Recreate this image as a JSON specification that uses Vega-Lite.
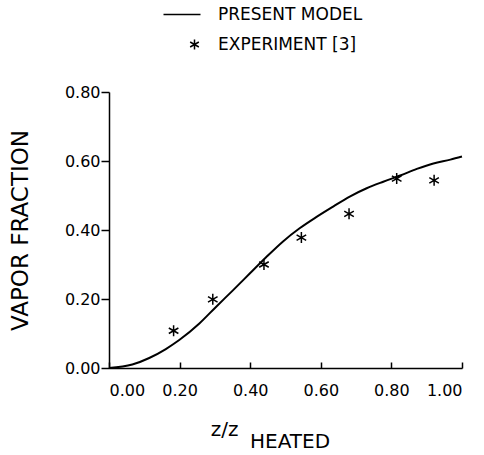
{
  "$schema": "https://vega.github.io/schema/vega-lite/v6.json",
  "autosize": {"type": "none"},
  "width": 353,
  "height": 276,
  "padding": {"left": 109, "top": 92, "right": 22, "bottom": 87},
  "background": "white",
  "config": {
    "view": {"stroke": null},
    "font": "DejaVu Sans",
    "axis": {"domainColor": "black", "tickColor": "black", "labelColor": "black", "titleColor": "black", "grid": false, "labelFont": "DejaVu Sans", "titleFont": "DejaVu Sans", "titleFontWeight": "normal"}
  },
  "title": {"text": "HEATED", "orient": "bottom", "anchor": "start", "dx": 141, "offset": -7, "fontSize": 20, "fontWeight": "normal", "color": "black", "font": "DejaVu Sans", "frame": "group"},
  "datasets": {
    "model": [
      {"series": "PRESENT MODEL", "x": 0.0, "y": 0.0},
      {"series": "PRESENT MODEL", "x": 0.066, "y": 0.01},
      {"series": "PRESENT MODEL", "x": 0.114, "y": 0.029},
      {"series": "PRESENT MODEL", "x": 0.161, "y": 0.055},
      {"series": "PRESENT MODEL", "x": 0.199, "y": 0.081},
      {"series": "PRESENT MODEL", "x": 0.256, "y": 0.129},
      {"series": "PRESENT MODEL", "x": 0.303, "y": 0.177},
      {"series": "PRESENT MODEL", "x": 0.351, "y": 0.225},
      {"series": "PRESENT MODEL", "x": 0.398, "y": 0.273},
      {"series": "PRESENT MODEL", "x": 0.445, "y": 0.321},
      {"series": "PRESENT MODEL", "x": 0.493, "y": 0.367},
      {"series": "PRESENT MODEL", "x": 0.54, "y": 0.405},
      {"series": "PRESENT MODEL", "x": 0.588, "y": 0.438},
      {"series": "PRESENT MODEL", "x": 0.635, "y": 0.468},
      {"series": "PRESENT MODEL", "x": 0.682, "y": 0.497},
      {"series": "PRESENT MODEL", "x": 0.73, "y": 0.521},
      {"series": "PRESENT MODEL", "x": 0.777, "y": 0.54},
      {"series": "PRESENT MODEL", "x": 0.825, "y": 0.558},
      {"series": "PRESENT MODEL", "x": 0.872, "y": 0.577},
      {"series": "PRESENT MODEL", "x": 0.919, "y": 0.593},
      {"series": "PRESENT MODEL", "x": 0.967, "y": 0.604},
      {"series": "PRESENT MODEL", "x": 1.0, "y": 0.613}
    ],
    "experiment": [
      {"series": "EXPERIMENT [3]", "x": 0.183, "y": 0.108},
      {"series": "EXPERIMENT [3]", "x": 0.294, "y": 0.199},
      {"series": "EXPERIMENT [3]", "x": 0.439, "y": 0.3},
      {"series": "EXPERIMENT [3]", "x": 0.545, "y": 0.378},
      {"series": "EXPERIMENT [3]", "x": 0.68, "y": 0.447},
      {"series": "EXPERIMENT [3]", "x": 0.815, "y": 0.549},
      {"series": "EXPERIMENT [3]", "x": 0.921, "y": 0.544}
    ]
  },
  "layer": [
    {
      "data": {"name": "model"},
      "mark": {"type": "line", "color": "black", "strokeWidth": 2, "interpolate": "monotone"},
      "encoding": {
        "x": {"field": "x", "type": "quantitative", "scale": {"domain": [0, 1], "nice": false},
          "axis": {"values": [0, 0.2, 0.4, 0.6, 0.8, 1.0], "format": ".2f", "tickSize": -6, "labelPadding": 20, "labelFontSize": 16, "domainWidth": 1.5, "tickWidth": 1.5,
            "title": "z/z", "titleFontSize": 20, "titleX": 115, "titleY": 67, "titleBaseline": "alphabetic", "titleAlign": "center"}},
        "y": {"field": "y", "type": "quantitative", "scale": {"domain": [0, 0.8], "nice": false},
          "axis": {"values": [0, 0.2, 0.4, 0.6, 0.8], "format": ".2f", "tickSize": 8, "labelPadding": 1, "labelFontSize": 16, "domainWidth": 1.5, "tickWidth": 1.5,
            "title": "VAPOR FRACTION", "titleFontSize": 23, "titlePadding": 32}}
      }
    },
    {
      "data": {"name": "experiment"},
      "mark": {"type": "point", "filled": false, "stroke": "black", "strokeWidth": 1.5, "size": 121, "opacity": 1},
      "encoding": {
        "x": {"field": "x", "type": "quantitative"},
        "y": {"field": "y", "type": "quantitative"},
        "shape": {"field": "series", "type": "nominal",
          "scale": {"domain": ["PRESENT MODEL", "EXPERIMENT [3]"], "range": ["M-6.2,0L1.2,0", "M0,-1L0,1M-0.87,-0.5L0.87,0.5M-0.87,0.5L0.87,-0.5"]},
          "legend": {"title": null, "orient": "none", "legendX": 77, "legendY": -86, "symbolSize": 100, "symbolStrokeColor": "black", "symbolStrokeWidth": 1.5, "symbolFillColor": "transparent", "labelFontSize": 17, "labelColor": "black", "labelOffset": 15, "rowPadding": 12, "padding": 0}}
      }
    }
  ]
}
